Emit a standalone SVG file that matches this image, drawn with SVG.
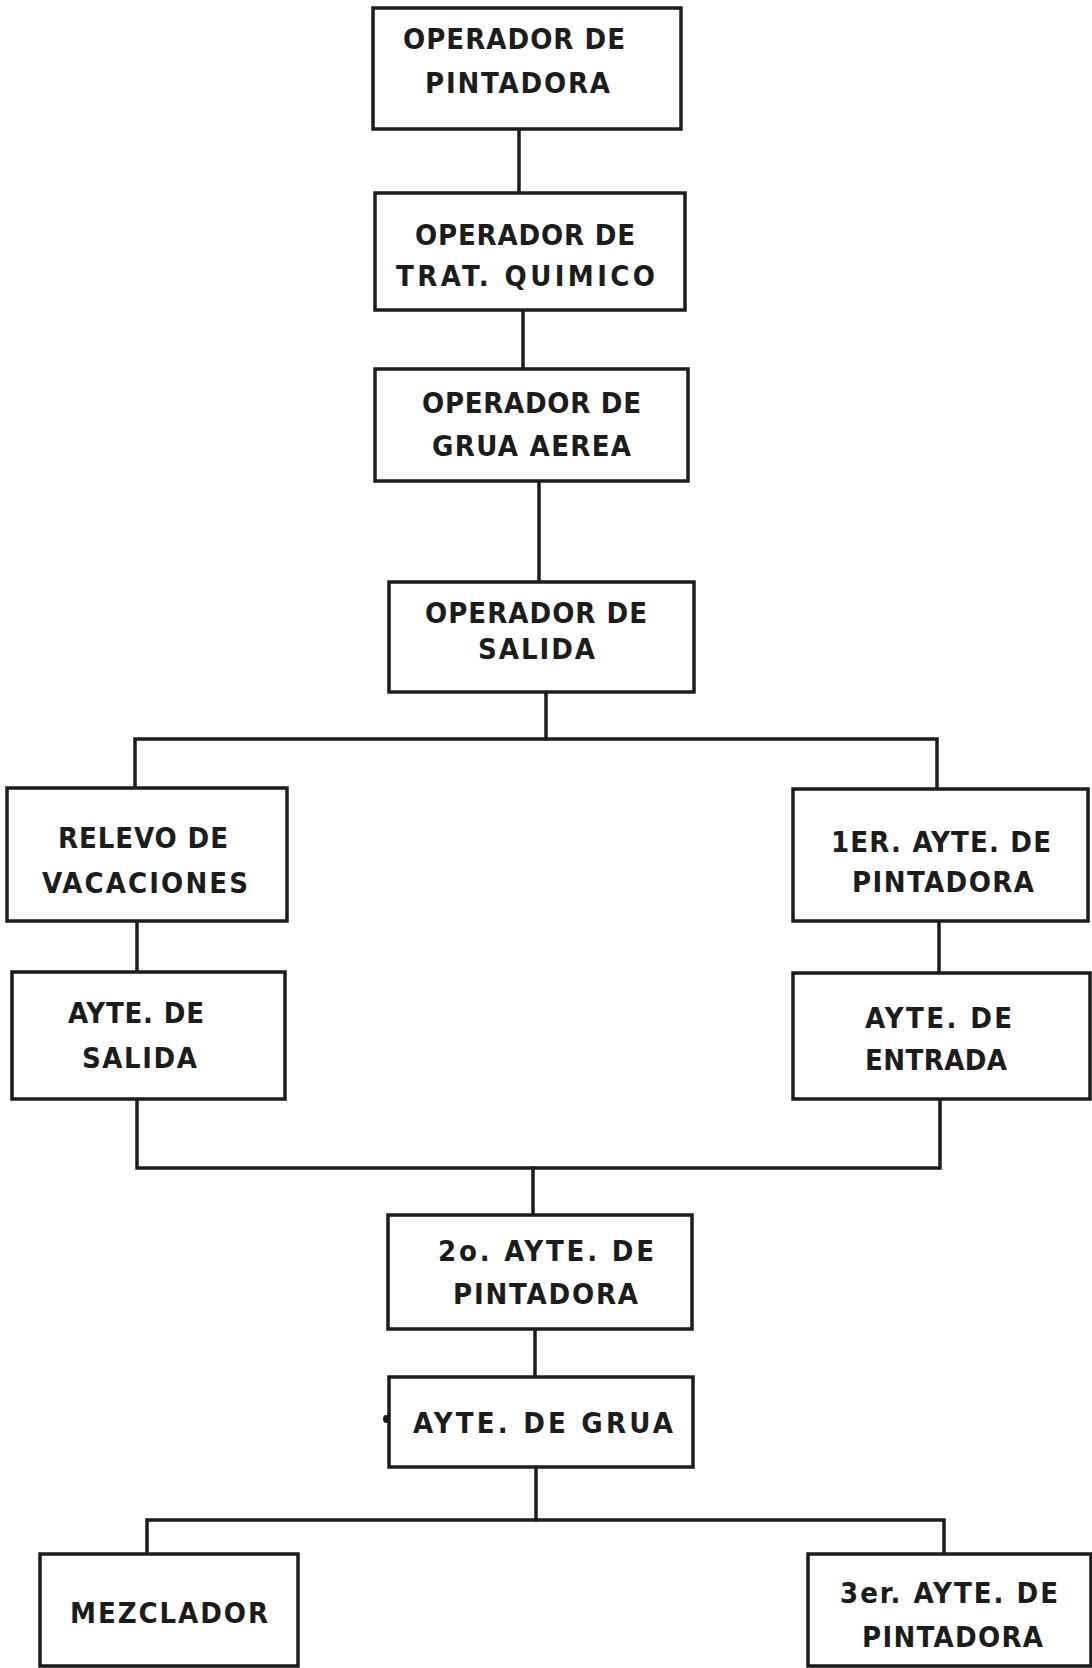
<svg xmlns="http://www.w3.org/2000/svg" width="1092" height="1668" viewBox="0 0 1092 1668">
  <style>
    .box { fill: #ffffff; stroke: #1c1c1c; stroke-width: 3.5; }
    .wire { fill: none; stroke: #1c1c1c; stroke-width: 3.5; stroke-linejoin: miter; stroke-linecap: square; }
    .lbl { font-family: "DejaVu Sans Condensed", "DejaVu Sans", sans-serif; font-weight: bold; font-size: 29px; fill: #1c1c1c; }
  </style>
  <rect width="1092" height="1668" fill="#ffffff"/>

  <!-- connectors -->
  <g id="connectors">
    <line class="wire" x1="519" y1="129" x2="519" y2="193"/>
    <line class="wire" x1="523" y1="310" x2="523" y2="369"/>
    <line class="wire" x1="539" y1="481" x2="539" y2="582"/>
    <polyline class="wire" points="546,692 546,739"/>
    <polyline class="wire" points="135,788 135,739 937,739 937,789"/>
    <line class="wire" x1="137" y1="921" x2="137" y2="972"/>
    <line class="wire" x1="939" y1="921" x2="939" y2="973"/>
    <polyline class="wire" points="137,1099 137,1168 940,1168 940,1099"/>
    <line class="wire" x1="533" y1="1168" x2="533" y2="1215"/>
    <line class="wire" x1="535" y1="1329" x2="535" y2="1377"/>
    <polyline class="wire" points="536,1467 536,1520"/>
    <polyline class="wire" points="147,1554 147,1520 944,1520 944,1554"/>
  </g>

  <g id="operador-pintadora">
    <rect class="box" x="373" y="8" width="308" height="121"/>
    <text class="lbl" x="403" y="49" textLength="222" lengthAdjust="spacing">OPERADOR DE</text>
    <text class="lbl" x="425" y="93" textLength="185" lengthAdjust="spacing">PINTADORA</text>
  </g>

  <g id="operador-trat-quimico">
    <rect class="box" x="375" y="193" width="310" height="117"/>
    <text class="lbl" x="415" y="245" textLength="220" lengthAdjust="spacing">OPERADOR DE</text>
    <text class="lbl" x="396" y="286" textLength="259" lengthAdjust="spacing">TRAT. QUIMICO</text>
  </g>

  <g id="operador-grua-aerea">
    <rect class="box" x="375" y="369" width="313" height="112"/>
    <text class="lbl" x="422" y="413" textLength="219" lengthAdjust="spacing">OPERADOR DE</text>
    <text class="lbl" x="432" y="456" textLength="199" lengthAdjust="spacing">GRUA AEREA</text>
  </g>

  <g id="operador-salida">
    <rect class="box" x="389" y="582" width="305" height="110"/>
    <text class="lbl" x="425" y="623" textLength="222" lengthAdjust="spacing">OPERADOR DE</text>
    <text class="lbl" x="478" y="659" textLength="117" lengthAdjust="spacing">SALIDA</text>
  </g>

  <g id="relevo-vacaciones">
    <rect class="box" x="7" y="788" width="280" height="133"/>
    <text class="lbl" x="58" y="848" textLength="170" lengthAdjust="spacing">RELEVO DE</text>
    <text class="lbl" x="42" y="893" textLength="206" lengthAdjust="spacing">VACACIONES</text>
  </g>

  <g id="ayte-salida">
    <rect class="box" x="12" y="972" width="273" height="127"/>
    <text class="lbl" x="68" y="1023" textLength="136" lengthAdjust="spacing">AYTE. DE</text>
    <text class="lbl" x="82" y="1068" textLength="115" lengthAdjust="spacing">SALIDA</text>
  </g>

  <g id="primer-ayte-pintadora">
    <rect class="box" x="793" y="789" width="295" height="132"/>
    <text class="lbl" x="831" y="852" textLength="220" lengthAdjust="spacing">1ER. AYTE. DE</text>
    <text class="lbl" x="852" y="892" textLength="182" lengthAdjust="spacing">PINTADORA</text>
  </g>

  <g id="ayte-entrada">
    <rect class="box" x="793" y="973" width="297" height="126"/>
    <text class="lbl" x="865" y="1028" textLength="147" lengthAdjust="spacing">AYTE. DE</text>
    <text class="lbl" x="865" y="1070" textLength="142" lengthAdjust="spacing">ENTRADA</text>
  </g>

  <g id="segundo-ayte-pintadora">
    <rect class="box" x="388" y="1215" width="304" height="114"/>
    <text class="lbl" x="438" y="1261" textLength="216" lengthAdjust="spacing">2o. AYTE. DE</text>
    <text class="lbl" x="453" y="1304" textLength="185" lengthAdjust="spacing">PINTADORA</text>
  </g>

  <g id="ayte-grua">
    <rect class="box" x="389" y="1377" width="304" height="90"/>
    <text class="lbl" x="413" y="1433" textLength="260" lengthAdjust="spacing">AYTE. DE GRUA</text>
    <ellipse cx="386" cy="1419" rx="3" ry="4" fill="#1c1c1c"/>
  </g>

  <g id="mezclador">
    <rect class="box" x="40" y="1554" width="258" height="112"/>
    <text class="lbl" x="70" y="1623" textLength="198" lengthAdjust="spacing">MEZCLADOR</text>
  </g>

  <g id="tercer-ayte-pintadora">
    <rect class="box" x="808" y="1554" width="283" height="112"/>
    <text class="lbl" x="840" y="1603" textLength="218" lengthAdjust="spacing">3er. AYTE. DE</text>
    <text class="lbl" x="862" y="1647" textLength="181" lengthAdjust="spacing">PINTADORA</text>
  </g>
</svg>
